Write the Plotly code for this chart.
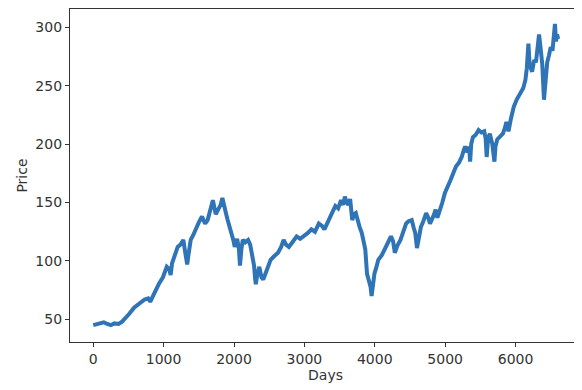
import plotly.graph_objects as go

days = [0, 60, 150, 200, 250, 300, 360, 410, 460, 515, 580, 640, 675, 730, 780, 810, 850, 885, 930, 990,
        1020, 1045, 1080, 1100, 1120, 1160, 1200, 1240, 1280, 1300, 1320, 1335, 1350, 1385, 1420, 1465, 1500,
        1545, 1590, 1625, 1660, 1700, 1740, 1780, 1810, 1835, 1860, 1885, 1910, 1940, 1965, 1990, 2010, 2045,
        2070, 2085, 2105, 2125, 2160, 2200, 2230, 2255, 2285, 2300, 2310, 2330, 2360, 2390, 2415, 2440, 2465,
        2520, 2570, 2625, 2670, 2705, 2740, 2780, 2830, 2890, 2940, 2995, 3050, 3100, 3150, 3205, 3250, 3285,
        3320, 3360, 3400, 3440, 3480, 3520, 3550, 3575, 3600, 3625, 3650, 3680, 3705, 3730, 3760, 3785, 3815,
        3840, 3865, 3890, 3915, 3940, 3955, 3975, 3995, 4020, 4050, 4100, 4150, 4190, 4230, 4260, 4285, 4320,
        4365, 4400, 4445, 4480, 4525, 4555, 4575, 4600, 4625, 4655, 4690, 4730, 4760, 4785, 4830, 4865, 4890,
        4915, 4960, 4995, 5035, 5075, 5115, 5155, 5195, 5235, 5265, 5285, 5315, 5340, 5355, 5370, 5395, 5435,
        5475, 5515, 5555, 5575, 5590, 5610, 5635, 5670, 5700, 5715, 5740, 5780, 5820, 5850, 5870, 5885, 5900,
        5935, 5975, 6015, 6055, 6085, 6110, 6140, 6160, 6183, 6200, 6235, 6265, 6290, 6310, 6334, 6360,
        6380, 6404, 6430, 6450, 6475, 6500, 6525, 6545, 6560, 6575, 6590, 6605]
prices = [45, 46, 47.5, 46, 45, 46.5, 46, 48, 51, 55, 60, 63, 65, 67, 68, 65, 70, 75, 80, 86,
          91, 95, 93, 88, 98, 104, 112, 114, 118, 110, 104, 97, 104, 118, 122, 129, 133,
          138, 132, 135, 142, 152, 140, 144, 148, 154, 146, 141, 135, 129, 124, 118, 112, 119,
          110, 96, 110, 118, 116, 118, 114, 107, 96, 85, 80, 88, 95, 86, 84, 88, 92,
          101, 104, 107, 112, 118, 114, 112, 116, 121, 119, 121, 124, 127, 125, 132, 130, 127,
          132, 138, 142, 147, 145, 152, 148, 155, 150, 148, 153, 135, 140, 141, 133, 129, 124,
          118, 110, 89, 84, 78, 70, 82, 89, 94, 101, 105, 112, 116, 121, 117, 107, 113,
          118, 124, 132, 134, 135, 128, 124, 111, 120, 129, 134, 141, 137, 132, 138, 144, 137,
          141, 150, 158, 163, 169, 175, 181, 184, 189, 195, 198, 193, 198, 185, 200, 206, 208,
          212, 210, 211, 205, 189, 205, 209, 200, 185, 198, 204, 206, 209, 214, 219, 215, 211,
          222, 232, 238, 243, 246, 248, 255, 265, 286, 268, 262, 272, 270, 282, 294, 280,
          268, 238, 262, 270, 276, 283, 280, 292, 303, 288, 294, 290]

fig = go.Figure()
fig.add_trace(go.Scatter(x=days, y=prices, mode="lines",
                         line=dict(color="#2f74b6", width=4)))

font = dict(family="DejaVu Sans", size=14, color="#333333")
axis_common = dict(showline=True, linecolor="#333333", linewidth=1.2, mirror=True,
                   showgrid=False, zeroline=False, ticks="outside", ticklen=4,
                   tickcolor="#333333", tickfont=font)

fig.update_layout(
    width=574, height=382,
    margin=dict(l=62, r=1, t=1, b=48),
    paper_bgcolor="white", plot_bgcolor="white",
    showlegend=False,
    xaxis=dict(range=[-330, 6930], tickvals=[0, 1000, 2000, 3000, 4000, 5000, 6000],
               title=dict(text="Days", font=font, standoff=2),
               **axis_common),
    yaxis=dict(range=[30.6, 315.7], tickvals=[50, 100, 150, 200, 250, 300],
               title=dict(text="Price", font=font, standoff=4),
               **axis_common),
)

fig.write_html("out.html")
